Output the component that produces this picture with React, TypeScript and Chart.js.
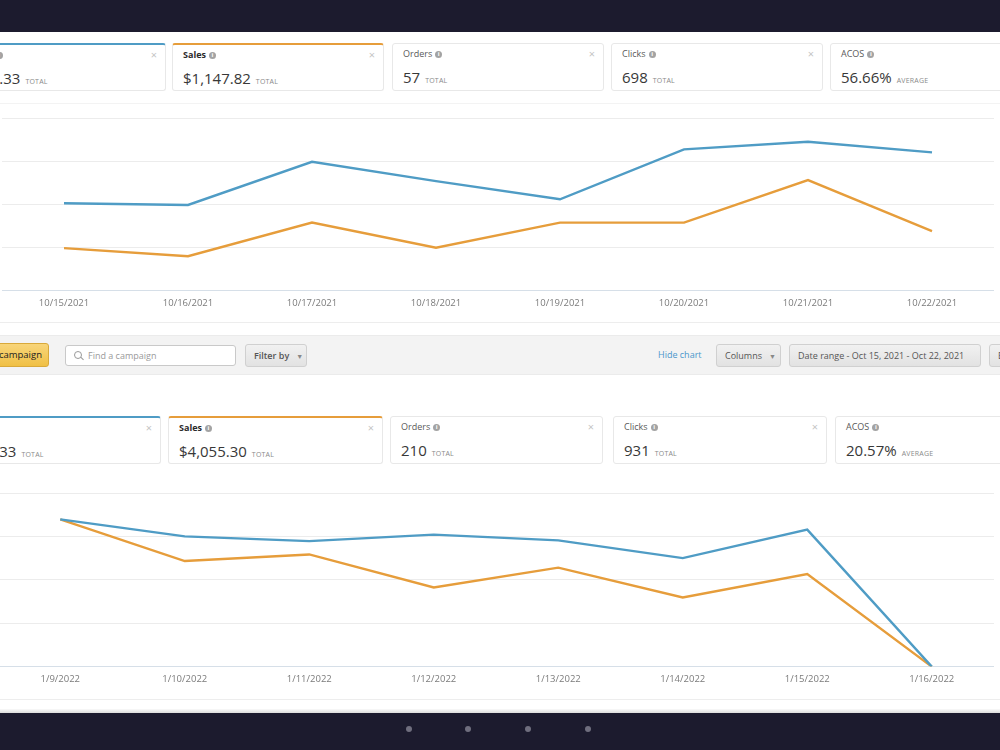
import React, { useEffect, useRef } from "react";
import { Chart, registerables } from "chart.js";

Chart.register(...registerables);

// ---- data ----
const octDates = ["10/15/2021", "10/16/2021", "10/17/2021", "10/18/2021", "10/19/2021", "10/20/2021", "10/21/2021", "10/22/2021"];
const octSpend = [50.6, 49.6, 74.6, 63.4, 52.9, 81.8, 86.2, 80.1];
const octSales = [24.6, 19.9, 39.4, 24.8, 39.4, 39.4, 64.0, 34.5];

const janDates = ["1/9/2022", "1/10/2022", "1/11/2022", "1/12/2022", "1/13/2022", "1/14/2022", "1/15/2022", "1/16/2022"];
const janSpend = [84.8, 75.0, 72.3, 76.0, 72.7, 62.5, 78.9, 0];
const janSales = [84.8, 60.8, 64.6, 45.6, 57.0, 39.8, 53.3, 0];

const yGridValues = [0, 25, 50, 75, 100];

const octMetricLabels = ["Spend", "Sales", "Orders", "Clicks", "ACOS"];
const octMetricValues = ["$650.33", "$1,147.82", "57", "698", "56.66%"];
const octMetricUnits = ["TOTAL", "TOTAL", "TOTAL", "TOTAL", "AVERAGE"];

const janMetricLabels = ["Spend", "Sales", "Orders", "Clicks", "ACOS"];
const janMetricValues = ["$834.33", "$4,055.30", "210", "931", "20.57%"];
const janMetricUnits = ["TOTAL", "TOTAL", "TOTAL", "TOTAL", "AVERAGE"];

// ---- style ----
const BLUE = "#4f9cc5";
const ORANGE = "#e69d3b";
const NAVY = "#1c1b2e";
const FONT = '"Open Sans", "Noto Sans", sans-serif';

type ChartProps = {
  labels: string[];
  spend: number[];
  sales: number[];
  left: number;
  top: number;
  width: number;
  height: number;
};

function TrendChart({ labels, spend, sales, left, top, width, height }: ChartProps) {
  const ref = useRef<HTMLCanvasElement>(null);
  useEffect(() => {
    if (!ref.current) return;
    const chart = new Chart(ref.current, {
      type: "line",
      data: {
        labels,
        datasets: [
          { data: spend, borderColor: BLUE, borderWidth: 2.4, pointRadius: 0, tension: 0, fill: false },
          { data: sales, borderColor: ORANGE, borderWidth: 2.4, pointRadius: 0, tension: 0, fill: false },
        ],
      },
      options: {
        animation: false,
        responsive: false,
        maintainAspectRatio: false,
        layout: { padding: { top: 5, left: 0, right: 0, bottom: 0 }, autoPadding: false },
        plugins: { legend: { display: false }, tooltip: { enabled: false } },
        scales: {
          x: {
            offset: true,
            grid: { display: false, drawTicks: false },
            border: { display: true, color: "#d6dfe8", width: 1 },
            ticks: {
              color: "#7b7b7b",
              font: { family: FONT, size: 9.5 },
              padding: 7,
              maxRotation: 0,
              autoSkip: false,
            },
          },
          y: {
            min: 0,
            max: 100,
            afterBuildTicks: (scale: any) => {
              scale.ticks = yGridValues.map((v) => ({ value: v }));
            },
            grid: {
              drawTicks: false,
              color: (ctx: any) => (ctx.tick && ctx.tick.value === 0 ? "#d6dfe8" : "#ececec"),
              lineWidth: 1,
            },
            border: { display: false },
            ticks: { display: false },
          },
        },
      },
    });
    return () => chart.destroy();
  }, []);
  return (
    <canvas
      ref={ref}
      width={width}
      height={height}
      style={{ position: "absolute", left, top, width, height }}
    />
  );
}

function InfoIcon() {
  return (
    <span
      style={{
        display: "inline-block",
        width: 7,
        height: 7,
        borderRadius: "50%",
        background: "#a3a3a3",
        color: "#fff",
        fontSize: 6,
        lineHeight: "7px",
        textAlign: "center",
        marginLeft: 3,
        verticalAlign: "middle",
        fontWeight: 700,
      }}
    >
      i
    </span>
  );
}

type CardProps = {
  left: number;
  top: number;
  width: number;
  accent?: string;
  label: string;
  value: string;
  unit: string;
  selected?: boolean;
  close?: boolean;
};

function MetricCard({ left, top, width, accent, label, value, unit, selected, close }: CardProps) {
  return (
    <div
      style={{
        position: "absolute",
        left,
        top,
        width,
        height: 48,
        boxSizing: "border-box",
        background: "#fff",
        border: "1px solid #e8e8e8",
        borderTop: accent ? `2px solid ${accent}` : "1px solid #e8e8e8",
        borderRadius: 3,
        fontFamily: FONT,
      }}
    >
      <div
        style={{
          position: "absolute",
          left: 10,
          top: 3,
          fontSize: 9,
          color: selected ? "#2b2b2b" : "#5a5a5a",
          fontWeight: selected ? 700 : 400,
          whiteSpace: "nowrap",
        }}
      >
        {label}
        <InfoIcon />
      </div>
      {close && (
        <div style={{ position: "absolute", right: 8, top: 3, fontSize: 11, color: "#c4c4c4", lineHeight: "14px" }}>×</div>
      )}
      <div style={{ position: "absolute", left: 10, top: 22, whiteSpace: "nowrap", color: "#383838" }}>
        <span style={{ fontSize: 15 }}>{value}</span>
        <span style={{ fontSize: 7, color: "#8a8a8a", marginLeft: 5, letterSpacing: 0.2 }}>{unit}</span>
      </div>
    </div>
  );
}

function GrayButton({ left, top, width, text, caret, bold }: { left: number; top: number; width: number; text: string; caret?: boolean; bold?: boolean }) {
  return (
    <div
      style={{
        position: "absolute",
        left,
        top,
        width,
        height: 23,
        boxSizing: "border-box",
        border: "1px solid #d0d0d0",
        borderRadius: 3,
        background: "linear-gradient(#f1f1f1, #e2e2e2)",
        fontFamily: FONT,
        fontSize: 9,
        fontWeight: bold ? 600 : 400,
        color: "#555",
        lineHeight: "21px",
        paddingLeft: 8,
        whiteSpace: "nowrap",
        overflow: "hidden",
      }}
    >
      {text}
      {caret && <span style={{ fontSize: 7, color: "#888", marginLeft: 7 }}>▼</span>}
    </div>
  );
}

export default function App() {
  const octLefts = [-46, 172, 392, 611, 830];
  const janLefts = [-50, 168, 390, 613, 835];
  const octWidths = [212, 212, 212, 212, 212];
  const janWidths = [211, 215, 213, 214, 214];
  return (
    <div
      style={{
        position: "fixed",
        left: 0,
        top: 0,
        width: 1000,
        height: 750,
        overflow: "hidden",
        background: "#fff",
        fontFamily: FONT,
      }}
    >
      {/* top bar */}
      <div style={{ position: "absolute", left: 0, top: 0, width: 1000, height: 32, background: NAVY }} />

      {/* October metric cards */}
      {octMetricLabels.map((l, i) => (
        <MetricCard
          key={"o" + i}
          left={octLefts[i]}
          top={43}
          width={octWidths[i]}
          accent={i === 0 ? BLUE : i === 1 ? ORANGE : undefined}
          label={l}
          value={octMetricValues[i]}
          unit={octMetricUnits[i]}
          selected={i < 2}
          close={i < 4}
        />
      ))}

      <div style={{ position: "absolute", left: 0, top: 103, width: 1000, height: 1, background: "#f3f3f3" }} />
      <TrendChart labels={octDates} spend={octSpend} sales={octSales} left={2} top={113} width={992} height={203} />
      <div style={{ position: "absolute", left: 0, top: 322, width: 1000, height: 1, background: "#ededed" }} />

      {/* toolbar */}
      <div
        style={{
          position: "absolute",
          left: 0,
          top: 335,
          width: 1000,
          height: 40,
          background: "#f3f3f3",
          borderTop: "1px solid #ebebeb",
          borderBottom: "1px solid #ebebeb",
          boxSizing: "border-box",
        }}
      />
      <div
        style={{
          position: "absolute",
          left: -40,
          top: 343,
          width: 89,
          height: 24,
          boxSizing: "border-box",
          border: "1px solid #d9a93a",
          borderRadius: 3,
          background: "linear-gradient(#f8d57a, #f0c045)",
          fontSize: 9.5,
          color: "#222",
          lineHeight: "22px",
          textAlign: "right",
          paddingRight: 6,
          whiteSpace: "nowrap",
        }}
      >
        Create campaign
      </div>
      <div
        style={{
          position: "absolute",
          left: 65,
          top: 345,
          width: 171,
          height: 21,
          boxSizing: "border-box",
          border: "1px solid #c9c9c9",
          borderRadius: 3,
          background: "#fff",
          fontSize: 9,
          color: "#9a9a9a",
          lineHeight: "19px",
          paddingLeft: 22,
          whiteSpace: "nowrap",
        }}
      >
        <span
          style={{
            position: "absolute",
            left: 8,
            top: 5,
            width: 6,
            height: 6,
            border: "1.2px solid #9a9a9a",
            borderRadius: "50%",
          }}
        />
        <span
          style={{
            position: "absolute",
            left: 14,
            top: 12,
            width: 4,
            height: 1.3,
            background: "#9a9a9a",
            transform: "rotate(45deg)",
          }}
        />
        Find a campaign
      </div>
      <GrayButton left={245} top={344} width={62} text="Filter by" caret bold />
      <div style={{ position: "absolute", left: 658, top: 348, fontSize: 9, color: "#4a97cc", whiteSpace: "nowrap" }}>
        Hide chart
      </div>
      <GrayButton left={716} top={344} width={65} text="Columns" caret />
      <GrayButton left={789} top={344} width={192} text="Date range - Oct 15, 2021 - Oct 22, 2021" />
      <GrayButton left={989} top={344} width={40} text="Export" />

      {/* January metric cards */}
      {janMetricLabels.map((l, i) => (
        <MetricCard
          key={"j" + i}
          left={janLefts[i]}
          top={416}
          width={janWidths[i]}
          accent={i === 0 ? BLUE : i === 1 ? ORANGE : undefined}
          label={l}
          value={janMetricValues[i]}
          unit={janMetricUnits[i]}
          selected={i < 2}
          close={i < 4}
        />
      ))}

      <TrendChart labels={janDates} spend={janSpend} sales={janSales} left={-2} top={488} width={996} height={204} />
      <div style={{ position: "absolute", left: 0, top: 699, width: 1000, height: 1, background: "#ededed" }} />

      {/* bottom band with pager dots */}
      <div style={{ position: "absolute", left: 0, top: 709, width: 1000, height: 4, background: "linear-gradient(#fafafa, #dcdcdc)" }} />
      <div style={{ position: "absolute", left: 0, top: 713, width: 1000, height: 37, background: NAVY }} />
      {[409, 468, 528, 588].map((x) => (
        <div
          key={x}
          style={{
            position: "absolute",
            left: x - 3,
            top: 726,
            width: 6,
            height: 6,
            borderRadius: "50%",
            background: "#6f6e7e",
          }}
        />
      ))}
    </div>
  );
}
